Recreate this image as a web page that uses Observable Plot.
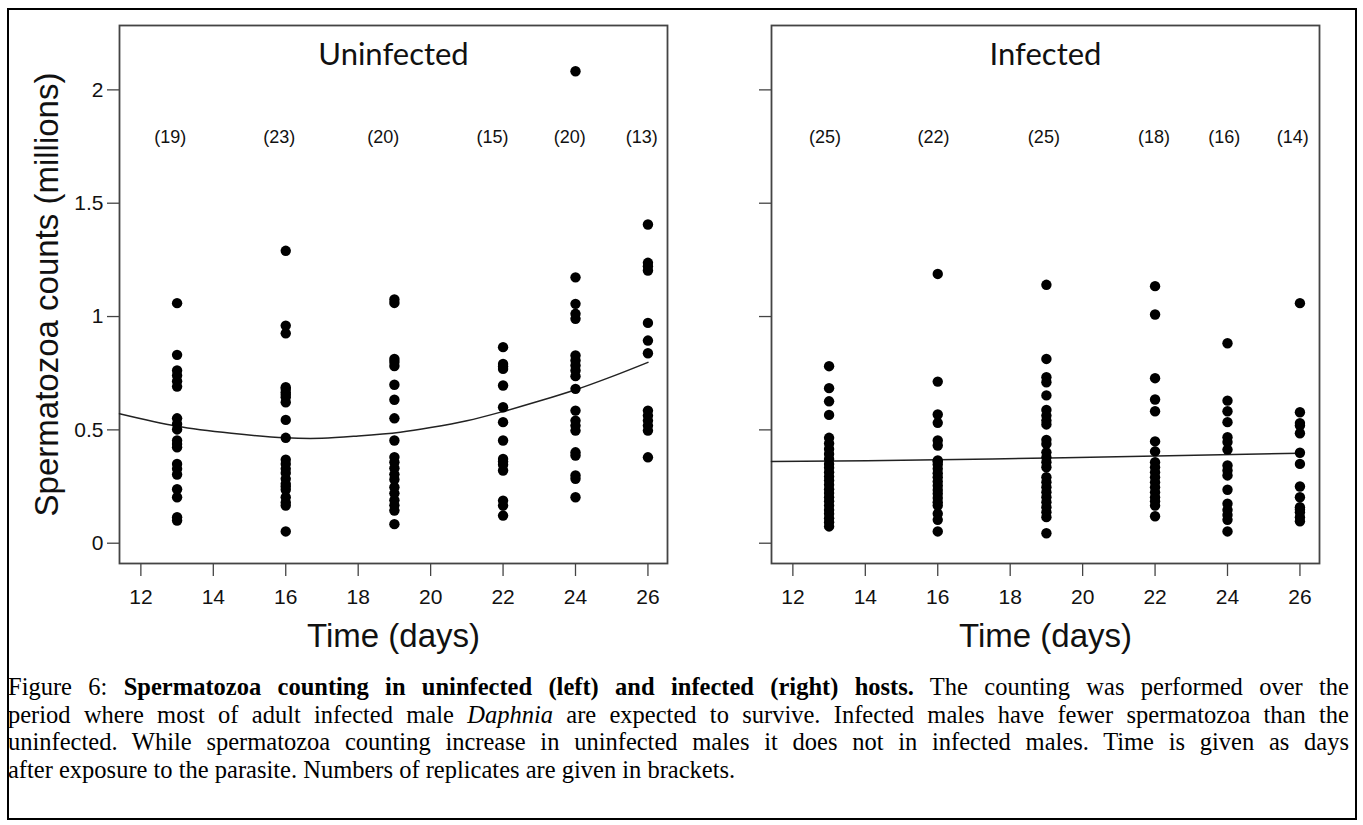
<!DOCTYPE html>
<html>
<head>
<meta charset="utf-8">
<script src="https://cdn.jsdelivr.net/npm/d3@7"></script>
<script src="https://cdn.jsdelivr.net/npm/@observablehq/plot@0.6"></script>
<style>
  html, body { margin: 0; padding: 0; background: #fff; }
  body { width: 1363px; height: 825px; position: relative; overflow: hidden; font-family: "Liberation Sans", Arial, sans-serif; }
  #border { position: absolute; left: 7px; top: 8px; width: 1350px; height: 812px; border: 2px solid #000; box-sizing: border-box; }
  .panel { position: absolute; top: 0; }
  #left { left: 0px; }
  #right { left: 652px; }
  #caption { position: absolute; left: 8px; top: 673px; width: 1341px; font-family: "Liberation Serif", "Times New Roman", serif; font-size: 24.5px; line-height: 27.5px; color: #000; }
  #caption div { white-space: nowrap; }
  #caption .j { text-align: justify; text-align-last: justify; }
</style>
</head>
<body>
<div id="border"></div>
<div id="left" class="panel"></div>
<div id="right" class="panel"></div>
<div id="caption">
  <div class="j">Figure 6: <b>Spermatozoa counting in uninfected (left) and infected (right) hosts.</b> The counting was performed over the</div>
  <div class="j">period where most of adult infected male <i>Daphnia</i> are expected to survive. Infected males have fewer spermatozoa than the</div>
  <div class="j">uninfected. While spermatozoa counting increase in uninfected males it does not in infected males. Time is given as days</div>
  <div>after exposure to the parasite. Numbers of replicates are given in brackets.</div>
</div>
<script>
// ---------- data ----------
const days = [13, 16, 19, 22, 24, 26];
const xTicks = [12, 14, 16, 18, 20, 22, 24, 26];
const yTicks = [0, 0.5, 1, 1.5, 2];

// Uninfected hosts (millions of spermatozoa)
const uninf13 = [1.059, 0.831, 0.762, 0.740, 0.715, 0.691, 0.551, 0.526, 0.502, 0.453, 0.438, 0.423, 0.350, 0.328, 0.303, 0.238, 0.203, 0.115, 0.100];
const uninf16 = [1.29, 0.960, 0.926, 0.688, 0.680, 0.666, 0.655, 0.644, 0.622, 0.544, 0.465, 0.368, 0.350, 0.328, 0.310, 0.284, 0.262, 0.250, 0.236, 0.203, 0.180, 0.166, 0.052];
const uninf19 = [1.075, 1.060, 0.813, 0.800, 0.782, 0.699, 0.633, 0.551, 0.453, 0.380, 0.357, 0.331, 0.304, 0.281, 0.247, 0.220, 0.190, 0.167, 0.144, 0.084];
const uninf22 = [0.865, 0.791, 0.780, 0.769, 0.696, 0.600, 0.534, 0.453, 0.372, 0.360, 0.346, 0.321, 0.188, 0.166, 0.122];
const uninf24 = [2.082, 1.173, 1.056, 1.012, 0.990, 0.828, 0.806, 0.784, 0.762, 0.737, 0.681, 0.585, 0.541, 0.519, 0.497, 0.401, 0.387, 0.299, 0.284, 0.203];
const uninf26 = [1.406, 1.237, 1.222, 1.203, 0.972, 0.894, 0.838, 0.585, 0.563, 0.541, 0.519, 0.497, 0.379];

// Infected hosts
const inf13 = [0.781, 0.684, 0.626, 0.566, 0.465, 0.440, 0.416, 0.394, 0.372, 0.350, 0.333, 0.313, 0.294, 0.277, 0.258, 0.238, 0.221, 0.203, 0.185, 0.166, 0.147, 0.130, 0.110, 0.093, 0.074];
const inf16 = [1.188, 0.713, 0.568, 0.531, 0.453, 0.431, 0.365, 0.360, 0.347, 0.328, 0.309, 0.291, 0.272, 0.254, 0.235, 0.218, 0.200, 0.181, 0.166, 0.130, 0.103, 0.052];
const inf19 = [1.140, 0.813, 0.732, 0.710, 0.652, 0.588, 0.563, 0.541, 0.524, 0.456, 0.438, 0.401, 0.379, 0.357, 0.335, 0.291, 0.269, 0.247, 0.225, 0.203, 0.181, 0.159, 0.137, 0.115, 0.044];
const inf22 = [1.134, 1.009, 0.728, 0.634, 0.582, 0.449, 0.405, 0.357, 0.335, 0.313, 0.291, 0.269, 0.247, 0.225, 0.203, 0.185, 0.166, 0.119];
const inf24 = [0.882, 0.629, 0.582, 0.534, 0.468, 0.446, 0.413, 0.343, 0.321, 0.299, 0.236, 0.174, 0.147, 0.125, 0.103, 0.052];
const inf26 = [1.059, 0.578, 0.530, 0.519, 0.485, 0.399, 0.350, 0.250, 0.203, 0.159, 0.148, 0.137, 0.115, 0.097];

// replicate counts (labels) and where they sit
const uninfN = [19, 23, 20, 15, 20, 13];
const infN = [25, 22, 25, 18, 16, 14];
const uninfLabelX = [12.81, 15.82, 18.69, 21.71, 23.84, 25.83];
const infLabelX = [12.89, 15.88, 18.93, 21.97, 23.91, 25.80];
const labelY = 1.79;

// fitted curves
const uninfCurveX = [11.41, 13, 14.5, 16, 17, 18, 19.16, 20, 21, 22, 23, 24, 25, 26];
const uninfCurveY = [0.571, 0.516, 0.485, 0.465, 0.463, 0.473, 0.490, 0.510, 0.540, 0.581, 0.627, 0.677, 0.735, 0.798];
const infCurveX = [11.41, 16, 19.5, 26];
const infCurveY = [0.360, 0.368, 0.377, 0.397];

// ---------- build ----------
function rows(cols) {
  const out = [];
  cols.forEach((vals, i) => vals.forEach(v => out.push({day: days[i], value: v})));
  return out;
}

function panel({title, dots, counts, labelX, curveX, curveY, showYLabels}) {
  const curve = curveX.map((x, i) => ({x, y: curveY[i]}));
  const labels = counts.map((n, i) => ({x: labelX[i], text: `(${n})`}));
  const marks = [
    Plot.frame({stroke: "#444", strokeWidth: 1.8}),
    Plot.axisY({ticks: yTicks, tickSize: 12, tickPadding: 4, label: null,
      tickFormat: showYLabels ? (d => String(d)) : (() => ""), stroke: "#444", strokeWidth: 1.3}),
    Plot.axisX({ticks: xTicks, tickSize: 13, tickPadding: 13, label: null, stroke: "#444", strokeWidth: 1.3}),
    Plot.line(curve, {x: "x", y: "y", stroke: "#222", strokeWidth: 1.5, curve: "catmull-rom"}),
    Plot.dot(dots, {x: "day", y: "value", r: 5.2, fill: "#000", stroke: null}),
    Plot.text(labels, {x: "x", y: () => labelY, text: "text", fontSize: 18, fill: "#111"}),
    Plot.text([title], {frameAnchor: "top", lineAnchor: "middle", dy: 30, fontSize: 31, fontFamily: "Lato", fill: "#111"}),
    Plot.text(["Time (days)"], {frameAnchor: "bottom", lineAnchor: "bottom", dy: 83, fontSize: 33, fill: "#111"})
  ];
  if (showYLabels) {
    marks.push(Plot.text(["Spermatozoa counts (millions)"], {frameAnchor: "left", textAnchor: "middle", lineAnchor: "middle", rotate: -90, dx: -72, fontSize: 33, fill: "#111"}));
  }
  return Plot.plot({
    width: 700,
    height: 660,
    marginLeft: 119,
    marginRight: 33,
    marginTop: 25,
    marginBottom: 97,
    x: {domain: [11.41, 26.54]},
    y: {domain: [-0.0895, 2.284]},
    style: {background: "transparent", fontSize: "21px", fontFamily: "'Liberation Sans', Arial, sans-serif", color: "#111", overflow: "visible"},
    marks
  });
}

document.getElementById("left").appendChild(panel({
  title: "Uninfected",
  dots: rows([uninf13, uninf16, uninf19, uninf22, uninf24, uninf26]),
  counts: uninfN, labelX: uninfLabelX,
  curveX: uninfCurveX, curveY: uninfCurveY,
  showYLabels: true
}));
document.getElementById("right").appendChild(panel({
  title: "Infected",
  dots: rows([inf13, inf16, inf19, inf22, inf24, inf26]),
  counts: infN, labelX: infLabelX,
  curveX: infCurveX, curveY: infCurveY,
  showYLabels: false
}));
</script>
</body>
</html>
